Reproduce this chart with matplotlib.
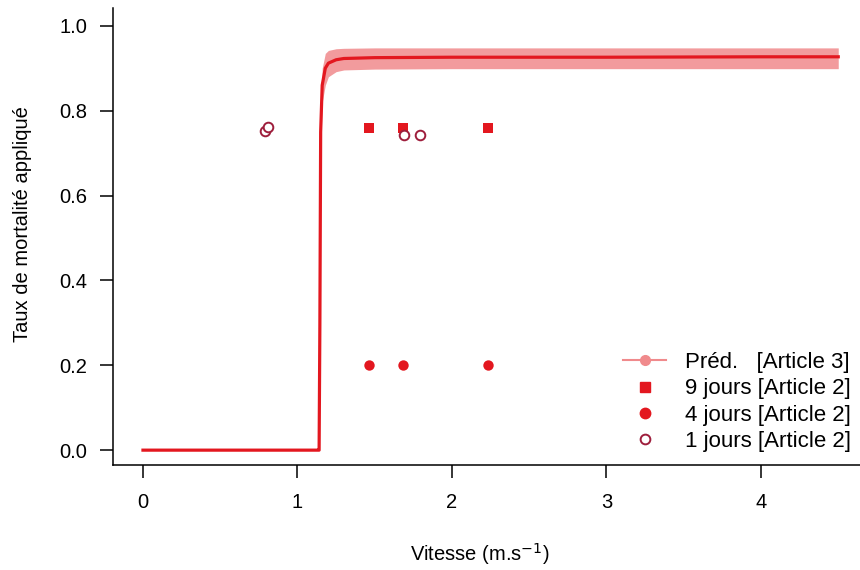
import matplotlib
matplotlib.use("Agg")
import matplotlib.pyplot as plt
from matplotlib.lines import Line2D

plt.rcParams['font.family'] = ['Liberation Sans', 'DejaVu Sans']

# Prediction curve
pred_x = [0.0, 0.5, 1.0, 1.13, 1.14, 1.145, 1.15, 1.16, 1.18, 1.2, 1.25, 1.3, 1.5, 2.0, 3.0, 4.0, 4.5]
pred_y = [0.0, 0.0, 0.0, 0.0, 0.0, 0.30, 0.75, 0.86, 0.90, 0.912, 0.92, 0.923, 0.925, 0.926, 0.926, 0.927, 0.927]
pred_lo = [0.0, 0.0, 0.0, 0.0, 0.0, 0.28, 0.70, 0.82, 0.86, 0.880, 0.892, 0.896, 0.898, 0.899, 0.899, 0.899, 0.899]
pred_hi = [0.0, 0.0, 0.0, 0.0, 0.0, 0.34, 0.80, 0.90, 0.935, 0.942, 0.946, 0.947, 0.948, 0.948, 0.948, 0.948, 0.948]

j9_x = [1.46, 1.68, 2.23]
j9_y = [0.76, 0.76, 0.76]
j4_x = [1.46, 1.68, 2.23]
j4_y = [0.20, 0.20, 0.20]
j1_x = [0.79, 0.81, 1.69, 1.79]
j1_y = [0.752, 0.762, 0.742, 0.742]

xticks = [0, 1, 2, 3, 4]
yticks = [0.0, 0.2, 0.4, 0.6, 0.8, 1.0]
ytick_labels = ['0.0', '0.2', '0.4', '0.6', '0.8', '1.0']

red = '#E3171F'
band = '#F08A8C'
dark = '#9E1E3C'
FS = 14.5

W, H = 860, 570
fig = plt.figure(figsize=(8.6, 5.7), dpi=100)
ax = fig.add_axes([113/W, (H-465)/H, (W-113)/W, (465-8)/H])

ax.fill_between(pred_x, pred_lo, pred_hi, color=band, alpha=0.85, lw=0)
ax.plot(pred_x, pred_y, color=red, lw=2.3)
ax.scatter(j9_x, j9_y, marker='s', s=52, color=red, zorder=3, lw=0)
ax.scatter(j4_x, j4_y, marker='o', s=56, color=red, zorder=3, lw=0)
ax.scatter(j1_x, j1_y, marker='o', s=48, facecolors='white', edgecolors=dark, linewidths=1.4, zorder=3)

ax.set_xlim(-0.194, (W-143)/154.5)
ax.set_ylim(-0.035, 1.042)
for s in ['top', 'right']:
    ax.spines[s].set_visible(False)
for s in ['left', 'bottom']:
    ax.spines[s].set_linewidth(1.1)
ax.set_xticks(xticks)
ax.set_yticks(yticks)
ax.set_yticklabels(ytick_labels)
ax.tick_params(direction='out', length=9.5, width=1.1, labelsize=FS)
ax.tick_params(axis='x', pad=11)
ax.tick_params(axis='y', pad=9)

ax.set_xlabel('Vitesse (m.s$^{-1}$)', fontsize=FS)
ax.xaxis.set_label_coords(480/W, 1-561/H, transform=fig.transFigure)
ax.xaxis.label.set_va('baseline')
ax.set_ylabel('Taux de mortalité appliqué', fontsize=FS)
ax.yaxis.set_label_coords(23/W, 1-224/H, transform=fig.transFigure)
ax.yaxis.label.set_va('center')

handles = [
    Line2D([], [], color=band, lw=1.5, marker='o', markersize=7, markerfacecolor=band, markeredgecolor=band),
    Line2D([], [], color=red, lw=0, marker='s', markersize=7.5),
    Line2D([], [], color=red, lw=0, marker='o', markersize=7.5),
    Line2D([], [], color=dark, lw=0, marker='o', markersize=7, markerfacecolor='white', markeredgewidth=1.4),
]
labels = ['Préd.   [Article 3]', '9 jours [Article 2]', '4 jours [Article 2]', '1 jours [Article 2]']
LFS = 16
ax.legend(handles, labels, loc='upper left', bbox_to_anchor=(623/W, 1-352/H),
          bbox_transform=fig.transFigure, frameon=False, borderpad=0, borderaxespad=0,
          fontsize=LFS, handlelength=1.95, handletextpad=0.85, labelspacing=0.24)

fig.savefig('out.png', dpi=100)
